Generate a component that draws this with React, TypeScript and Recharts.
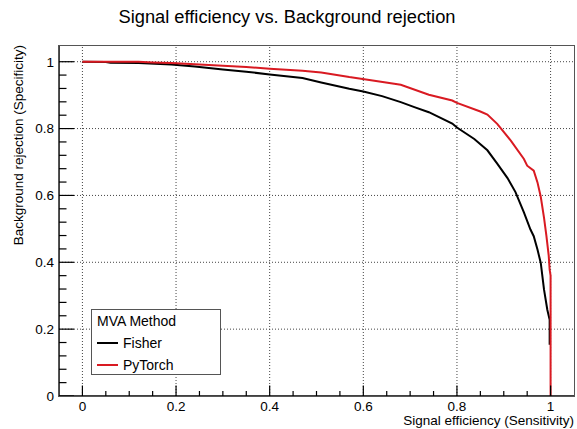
import { LineChart, Line, XAxis, YAxis, ReferenceLine } from "recharts";

// ROC curve points
const fisherEff = [0, 0.05, 0.06, 0.12, 0.19, 0.24, 0.3, 0.35, 0.4, 0.47, 0.51, 0.57, 0.6, 0.64, 0.68, 0.709, 0.74, 0.79, 0.8, 0.837, 0.865, 0.886, 0.908, 0.925, 0.943, 0.957, 0.964, 0.972, 0.979, 0.986, 0.993, 0.998, 0.998];
const fisherRej = [1, 0.999, 0.997, 0.996, 0.992, 0.986, 0.977, 0.97, 0.962, 0.951, 0.938, 0.919, 0.911, 0.897, 0.879, 0.864, 0.849, 0.815, 0.803, 0.769, 0.735, 0.695, 0.652, 0.61, 0.549, 0.498, 0.478, 0.438, 0.398, 0.318, 0.258, 0.228, 0.153];

const pytorchEff = [0, 0.12, 0.15, 0.19, 0.25, 0.3, 0.35, 0.4, 0.47, 0.51, 0.57, 0.62, 0.68, 0.74, 0.79, 0.8, 0.85, 0.865, 0.886, 0.915, 0.943, 0.95, 0.964, 0.972, 0.979, 0.986, 0.991, 0.996, 0.998, 1, 1];
const pytorchRej = [1, 1, 0.998, 0.996, 0.992, 0.988, 0.984, 0.979, 0.973, 0.968, 0.954, 0.944, 0.931, 0.901, 0.884, 0.877, 0.851, 0.842, 0.814, 0.764, 0.709, 0.689, 0.674, 0.639, 0.596, 0.533, 0.48, 0.42, 0.378, 0.36, 0];

const xTicks = [0, 0.05, 0.1, 0.15, 0.2, 0.25, 0.3, 0.35, 0.4, 0.45, 0.5, 0.55, 0.6, 0.65, 0.7, 0.75, 0.8, 0.85, 0.9, 0.95, 1];
const yTicks = [0, 0.04, 0.08, 0.12, 0.16, 0.2, 0.24, 0.28, 0.32, 0.36, 0.4, 0.44, 0.48, 0.52, 0.56, 0.6, 0.64, 0.68, 0.72, 0.76, 0.8, 0.84, 0.88, 0.92, 0.96, 1];
const xMajor = [0, 0.2, 0.4, 0.6, 0.8, 1];
const yMajor = [0, 0.2, 0.4, 0.6, 0.8, 1];
const gridX = [0, 0.2, 0.4, 0.6, 0.8, 1];
const gridY = [0.2, 0.4, 0.6, 0.8, 1];

const fisher = fisherEff.map((x, i) => ({ x, y: fisherRej[i] }));
const pytorch = pytorchEff.map((x, i) => ({ x, y: pytorchRej[i] }));

const FONT = '"Liberation Sans", Arial, Helvetica, sans-serif';
const RED = "#d91a22";

const isMajor = (v: number, list: number[]) => list.some((m) => Math.abs(m - v) < 1e-6);

// bottom axis: y is the axis line, ticks point up into the frame
const XTick = (props: any) => {
  const { x, y, payload } = props;
  const major = isMajor(payload.value, xMajor);
  return (
    <g>
      <line x1={x} x2={x} y1={y} y2={y - (major ? 10.5 : 5)} stroke="#000" strokeWidth={1.2} />
      {major && (
        <text x={x} y={y + 15} textAnchor="middle" fontSize={13.5} fontFamily={FONT} fill="#000">
          {String(payload.value)}
        </text>
      )}
    </g>
  );
};

// left axis: x is the axis line, ticks point right into the frame
const YTick = (props: any) => {
  const { x, y, payload } = props;
  const major = isMajor(payload.value, yMajor);
  return (
    <g>
      <line x1={x} x2={x + (major ? 15 : 7.5)} y1={y} y2={y} stroke="#000" strokeWidth={1.2} />
      {major && (
        <text x={x - 5} y={y} dy="0.36em" textAnchor="end" fontSize={13.5} fontFamily={FONT} fill="#000">
          {String(payload.value)}
        </text>
      )}
    </g>
  );
};

export default function App() {
  return (
    <div style={{ position: "fixed", left: 0, top: 0, width: 577, height: 429, background: "#fff", fontFamily: FONT }}>
      <div style={{ position: "absolute", left: 0, top: 6, width: 574, textAlign: "center", fontSize: 18.3, color: "#000" }}>
        Signal efficiency vs. Background rejection
      </div>
      <LineChart width={577} height={429} margin={{ top: 45, right: 3, bottom: 32, left: 58 }}>
        <XAxis
          type="number"
          dataKey="x"
          domain={[-0.05, 1.05]}
          ticks={xTicks}
          interval={0}
          height={1}
          tickSize={0}
          tickMargin={0}
          tick={XTick}
          axisLine={{ stroke: "#000", strokeWidth: 1.5 }}
          allowDataOverflow
        />
        <YAxis
          type="number"
          domain={[0, 1.05]}
          ticks={yTicks}
          interval={0}
          width={1}
          tickSize={0}
          tickMargin={0}
          tick={YTick}
          axisLine={{ stroke: "#000", strokeWidth: 1.5 }}
          allowDataOverflow
        />
        {gridX.map((v) => (
          <ReferenceLine key={"gx" + v} x={v} stroke="#444" strokeDasharray="1 2" />
        ))}
        {gridY.map((v) => (
          <ReferenceLine key={"gy" + v} y={v} stroke="#444" strokeDasharray="1 2" />
        ))}
        <Line data={fisher} dataKey="y" type="linear" stroke="#000" strokeWidth={2} dot={false} isAnimationActive={false} />
        <Line data={pytorch} dataKey="y" type="linear" stroke={RED} strokeWidth={2} dot={false} isAnimationActive={false} />
      </LineChart>
      <div style={{ position: "absolute", left: 58, top: 45, width: 515, height: 350, border: "1px solid #555", pointerEvents: "none" }} />
      <div
        style={{
          position: "absolute",
          left: 380,
          top: 413,
          width: 194,
          textAlign: "right",
          fontSize: 13.5,
          lineHeight: "15px",
          whiteSpace: "nowrap",
          color: "#000",
        }}
      >
        Signal efficiency (Sensitivity)
      </div>
      <div style={{ position: "absolute", left: 11, top: 45, width: 0, height: 0, fontSize: 13.5, whiteSpace: "nowrap", color: "#000" }}>
        <div style={{ position: "absolute", right: 0, top: 0, transformOrigin: "right top", transform: "rotate(-90deg)", lineHeight: "16px" }}>
          Background rejection (Specificity)
        </div>
      </div>
      <div
        style={{
          position: "absolute",
          left: 91,
          top: 309,
          width: 128,
          height: 64,
          border: "1px solid #555",
          background: "#fff",
          fontSize: 14,
          color: "#000",
        }}
      >
        <div style={{ position: "absolute", left: 5, top: 3 }}>MVA Method</div>
        <div style={{ position: "absolute", left: 5, top: 32, width: 21, height: 2, background: "#000" }} />
        <div style={{ position: "absolute", left: 31, top: 25 }}>Fisher</div>
        <div style={{ position: "absolute", left: 5, top: 54, width: 21, height: 2, background: RED }} />
        <div style={{ position: "absolute", left: 31, top: 47 }}>PyTorch</div>
      </div>
    </div>
  );
}
